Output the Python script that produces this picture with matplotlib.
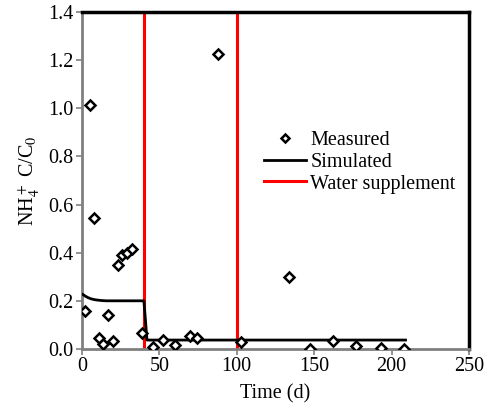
import matplotlib
matplotlib.use("Agg")
import matplotlib.pyplot as plt

plt.rcParams['font.family'] = ['Liberation Serif', 'DejaVu Serif']
plt.rcParams['mathtext.fontset'] = 'stix'

# Measured data
meas_t = [2, 5, 8, 11, 13.6, 17, 20, 23, 26, 29, 32, 39, 46, 52.6, 60, 69.5, 74, 88, 103, 134, 147, 162, 177, 193, 208]
meas_c = [0.158, 1.014, 0.544, 0.046, 0.02, 0.14, 0.033, 0.35, 0.39, 0.40, 0.415, 0.066, 0.008, 0.037, 0.017,
          0.055, 0.046, 1.225, 0.03, 0.30, 0.0, 0.033, 0.012, 0.005, 0.0]

# Simulated curve
sim_t = [0, 1, 2, 4, 6, 8, 10, 13, 16, 20, 30, 40, 41, 42, 50, 100, 150, 209]
sim_c = [0.228, 0.225, 0.220, 0.213, 0.208, 0.205, 0.203, 0.201, 0.200, 0.200, 0.200, 0.200, 0.12, 0.037, 0.037,
         0.037, 0.037, 0.037]

# Water supplement times
water_t = [40, 100]

FS = 14.5

fig = plt.figure(figsize=(4.85, 4.12), dpi=100)
ax = fig.add_axes([0.169, 0.153, 0.798, 0.818])

for i, t in enumerate(water_t):
    ax.axvline(t, color='#ff0000', lw=2.2, label='Water supplement' if i == 0 else None, zorder=2)
ax.plot(sim_t, sim_c, color='black', lw=2, label='Simulated', zorder=3)
ax.plot(meas_t, meas_c, linestyle='none', marker='D', markersize=5.5, markerfacecolor='white',
        markeredgecolor='black', markeredgewidth=1.8, label='Measured', zorder=4)

ax.set_xlim(0, 250)
ax.set_ylim(0, 1.4)
ax.set_xticks([0, 50, 100, 150, 200, 250])
ax.set_yticks([0.0, 0.2, 0.4, 0.6, 0.8, 1.0, 1.2, 1.4])
ax.set_yticklabels(['0.0', '0.2', '0.4', '0.6', '0.8', '1.0', '1.2', '1.4'])
ax.tick_params(labelsize=FS, direction='out', length=4, width=1.2, color='#808080', pad=2)

for s in ['left', 'bottom']:
    ax.spines[s].set_color('#808080')
    ax.spines[s].set_linewidth(2)
for s in ['top', 'right']:
    ax.spines[s].set_color('black')
    ax.spines[s].set_linewidth(2.5)

ax.set_xlabel('Time (d)', fontsize=FS, labelpad=6)
ax.set_ylabel('NH$_4^+$ C/C$_0$', fontsize=FS, labelpad=5)

h, l = ax.get_legend_handles_labels()
order = [l.index('Measured'), l.index('Simulated'), l.index('Water supplement')]
ax.legend([h[i] for i in order], [l[i] for i in order], loc='upper left', bbox_to_anchor=(0.47, 0.648),
          frameon=False, fontsize=FS, handlelength=2.1, handletextpad=0.2, labelspacing=0.14,
          borderaxespad=0, borderpad=0, markerscale=0.7)

fig.savefig('out.png', dpi=100)
